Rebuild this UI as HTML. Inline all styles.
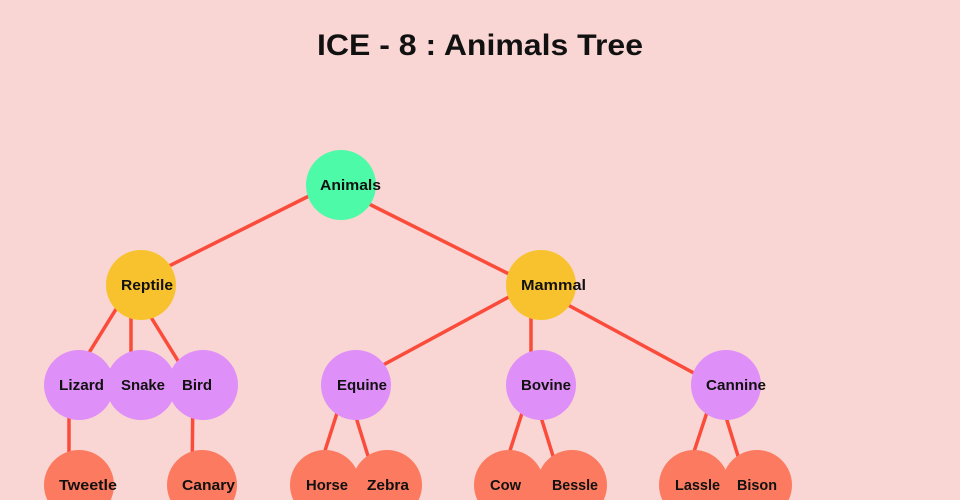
<!DOCTYPE html>
<html><head><meta charset="utf-8"><style>
html,body{margin:0;padding:0;background:#f9d6d3;}
svg{display:block}
text{font-family:"Liberation Sans",sans-serif;font-weight:bold;fill:#111;}
</style></head><body>
<svg width="960" height="500" viewBox="0 0 960 500">
<rect width="960" height="500" fill="#f9d6d3"/>
<text x="480" y="55" font-size="30" text-anchor="middle" textLength="326" lengthAdjust="spacingAndGlyphs">ICE - 8 : Animals Tree</text>
<g stroke="#fb4b3b" stroke-width="3.5">
<line x1="331" y1="185" x2="131" y2="285"/>
<line x1="331" y1="185" x2="531" y2="285"/>
<line x1="131" y1="285" x2="69" y2="385"/>
<line x1="131" y1="285" x2="131" y2="385"/>
<line x1="131" y1="285" x2="193" y2="385"/>
<line x1="531" y1="285" x2="346" y2="385"/>
<line x1="531" y1="285" x2="531" y2="385"/>
<line x1="531" y1="285" x2="716" y2="385"/>
<line x1="69" y1="385" x2="69" y2="485"/>
<line x1="193" y1="385" x2="192" y2="485"/>
<line x1="346" y1="385" x2="314" y2="485"/>
<line x1="346" y1="385" x2="377" y2="485"/>
<line x1="531" y1="385" x2="499" y2="485"/>
<line x1="531" y1="385" x2="562" y2="485"/>
<line x1="716" y1="385" x2="683" y2="485"/>
<line x1="716" y1="385" x2="747" y2="485"/>
</g>
<g>
<circle cx="341" cy="185" r="35" fill="#4dfaa8"/>
<circle cx="141" cy="285" r="35" fill="#f8c22e"/>
<circle cx="541" cy="285" r="35" fill="#f8c22e"/>
<circle cx="79" cy="385" r="35" fill="#df8ff8"/>
<circle cx="141" cy="385" r="35" fill="#df8ff8"/>
<circle cx="203" cy="385" r="35" fill="#df8ff8"/>
<circle cx="356" cy="385" r="35" fill="#df8ff8"/>
<circle cx="541" cy="385" r="35" fill="#df8ff8"/>
<circle cx="726" cy="385" r="35" fill="#df8ff8"/>
<circle cx="79" cy="485" r="35" fill="#fc7a5f"/>
<circle cx="202" cy="485" r="35" fill="#fc7a5f"/>
<circle cx="325" cy="485" r="35" fill="#fc7a5f"/>
<circle cx="387" cy="485" r="35" fill="#fc7a5f"/>
<circle cx="509" cy="485" r="35" fill="#fc7a5f"/>
<circle cx="572" cy="485" r="35" fill="#fc7a5f"/>
<circle cx="694" cy="485" r="35" fill="#fc7a5f"/>
<circle cx="757" cy="485" r="35" fill="#fc7a5f"/>
</g>
<g font-size="15" lengthAdjust="spacingAndGlyphs">
<text x="320" y="190" textLength="61" lengthAdjust="spacingAndGlyphs">Animals</text>
<text x="121" y="290" textLength="52" lengthAdjust="spacingAndGlyphs">Reptile</text>
<text x="521" y="290" textLength="65" lengthAdjust="spacingAndGlyphs">Mammal</text>
<text x="59" y="390" textLength="45" lengthAdjust="spacingAndGlyphs">Lizard</text>
<text x="121" y="390" textLength="44" lengthAdjust="spacingAndGlyphs">Snake</text>
<text x="182" y="390" textLength="30" lengthAdjust="spacingAndGlyphs">Bird</text>
<text x="337" y="390" textLength="50" lengthAdjust="spacingAndGlyphs">Equine</text>
<text x="521" y="390" textLength="50" lengthAdjust="spacingAndGlyphs">Bovine</text>
<text x="706" y="390" textLength="60" lengthAdjust="spacingAndGlyphs">Cannine</text>
<text x="59" y="490" textLength="58" lengthAdjust="spacingAndGlyphs">Tweetle</text>
<text x="182" y="490" textLength="53" lengthAdjust="spacingAndGlyphs">Canary</text>
<text x="306" y="490" textLength="42" lengthAdjust="spacingAndGlyphs">Horse</text>
<text x="367" y="490" textLength="42" lengthAdjust="spacingAndGlyphs">Zebra</text>
<text x="490" y="490" textLength="31" lengthAdjust="spacingAndGlyphs">Cow</text>
<text x="552" y="490" textLength="46" lengthAdjust="spacingAndGlyphs">Bessle</text>
<text x="675" y="490" textLength="45" lengthAdjust="spacingAndGlyphs">Lassle</text>
<text x="737" y="490" textLength="40" lengthAdjust="spacingAndGlyphs">Bison</text>
</g>
</svg>
</body></html>
